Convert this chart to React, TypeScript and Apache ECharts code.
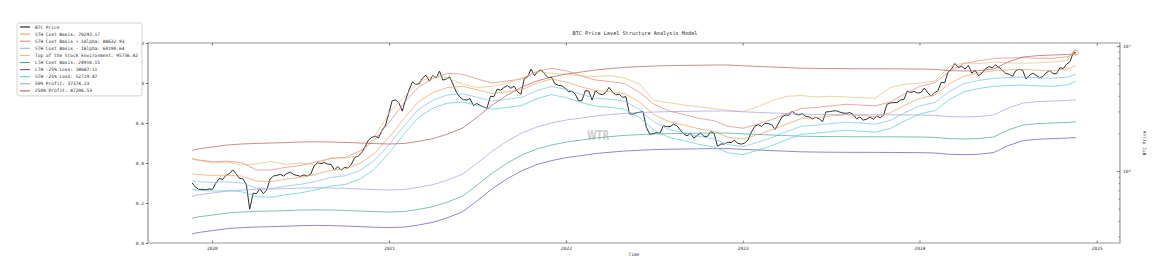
import React, { useEffect, useRef } from "react";
import * as echarts from "echarts";

const FONT = '"DejaVu Sans Mono", "Liberation Mono", monospace';

const TITLE = "BTC Price Level Structure Analysis Model";
const WATERMARK = "WTR";
const X_NAME = "Time";
const Y_RIGHT_NAME = "BTC Price";

const START_DATE = "2019-11-20";
const END_DATE = "2024-11-18";
const X_MIN_DATE = "2019-08-21";
const X_MAX_DATE = "2025-02-17";
const YEAR_TICKS = [2020, 2021, 2022, 2023, 2024, 2025];

const RIGHT_MIN = 2680;
const RIGHT_MAX = 106700;
const RIGHT_MAJOR = [10000, 100000];
const RIGHT_MINOR = [3000, 4000, 5000, 6000, 7000, 8000, 9000, 20000, 30000, 40000, 50000, 60000, 70000, 80000, 90000];

// BTC price, one value per week (Wednesdays) from 2019-11-20 to 2024-11-13
const BTC_WEEKLY = [
  // 2019
  8100, 7500, 7200, 7200, 7150, 7250,
  // 2020
  7200, 8050, 8800, 8650, 9300, 9600, 10300, 9600, 8800, 8750, 7900, 5000, 6700,
  6650, 7300, 6650, 7100, 8700, 9200, 9300, 9500, 9200, 9650, 9900, 9450, 9300,
  9150, 9400, 9200, 9500, 11100, 11750, 11550, 11800, 11450, 11400, 10300, 10950, 10250, 10800,
  10650, 11450, 12950, 13300, 14150, 15700, 17800, 18750, 19200, 18550, 21300, 23200, 28900,
  // 2021
  36800, 37400, 35500, 30400, 37600, 44800, 52100, 49700, 50500, 56000, 58900, 52800, 58800,
  56000, 63500, 53800, 55000, 57200, 49700, 42900, 39300, 37600, 37300, 38300, 33700, 35000,
  33800, 32800, 32100, 40000, 39700, 45600, 44700, 47000, 48800, 46400, 48100, 43600, 41500,
  55300, 57400, 66000, 58500, 63000, 65000, 60400, 56300, 57000, 50600, 48900, 48600, 46500,
  // 2022
  43500, 43900, 41700, 36800, 36900, 44400, 44000, 37300, 44400, 41900, 41100, 42900, 47100,
  43200, 41100, 41500, 39200, 39700, 29000, 28700, 29500, 29800, 30200, 22600, 19900, 20100,
  20500, 20200, 23200, 22900, 22800, 23900, 23300, 21500, 20000, 19300, 20200, 18500, 19400,
  20300, 19100, 19100, 20800, 20200, 15900, 16600, 16600, 17150, 17000, 17800, 16800, 16550,
  // 2023
  16850, 17950, 20700, 23050, 23700, 22950, 24300, 24200, 23600, 21700, 24400, 27300, 28300,
  28200, 30400, 28800, 28400, 29000, 27600, 27400, 26300, 27200, 26300, 25100, 30000, 30100,
  30500, 30600, 29900, 29400, 29200, 29600, 28700, 26400, 27300, 25800, 26200, 27200, 26200,
  27800, 26900, 28400, 34500, 35400, 35600, 35600, 37400, 37800, 44000, 42900, 43700, 42500,
  // 2024
  42800, 46600, 42700, 40100, 42600, 44300, 51800, 51300, 62500, 66100, 73100, 67900, 69400,
  66000, 70600, 61300, 64300, 58300, 61200, 66200, 69100, 67600, 71100, 68200, 65000, 60800,
  60200, 57700, 64100, 65800, 64600, 55100, 58700, 61100, 59000, 56200, 57600, 61800, 64300,
  60700, 60600, 67600, 66700, 72300, 75900, 90500,
];
const BTC_LAST = 89500;

// Level lines, one value on 2019-11-20, then the 1st of each month 2019-12 .. 2024-11, then 2024-11-18
const STH = [
  9600, 9450, 9300, 9350, 9200, 8400, 8300, 8700, 9000, 9500, 10200, 10500, 11600, 14000,
  19000, 27000, 36000, 43000, 47000, 48000, 45000, 42000, 43500, 45000, 51000, 55000,
  52000, 47500, 44500, 43500, 42000, 36000, 28500, 25000, 23500, 22000, 21000, 18800,
  18200, 19800, 21500, 24000, 26500, 27000, 27800, 28500, 28000, 27500, 29500, 34000,
  38500, 41000, 50000, 58000, 61500, 64000, 65000, 65500, 64500, 64000, 66000, 70293.17,
];
const STH_PLUS_ALPHA = [
  12700, 12400, 12000, 12100, 11800, 10300, 10300, 10800, 11200, 11900, 12700, 13000, 14600, 18000,
  25000, 36000, 47000, 56000, 61000, 60000, 55000, 51000, 53000, 55000, 63000, 67000,
  64000, 58000, 54000, 52500, 50500, 43000, 34500, 30500, 28500, 26700, 25500, 23000,
  22200, 24000, 26000, 29000, 32000, 32500, 33500, 34500, 34000, 33500, 36000, 42000,
  48000, 51500, 63000, 73000, 77000, 80000, 81000, 81500, 80500, 80500, 83000, 88632.93,
];
const STH_MINUS_ALPHA = [
  8450, 8300, 8200, 8250, 8100, 7350, 7300, 7650, 7900, 8350, 8950, 9250, 10200, 12300,
  16600, 23500, 31300, 37400, 41000, 41800, 39200, 36600, 37900, 39200, 44400, 47900,
  45300, 41300, 38700, 37800, 36500, 31300, 24800, 21700, 20400, 19100, 18300, 16400,
  15800, 17200, 18700, 20900, 23000, 23500, 24200, 24800, 24400, 23900, 25700, 29600,
  33500, 35700, 43500, 50500, 53500, 55700, 56500, 57000, 56100, 55700, 57000, 60190.64,
];
const TOP_STOCK = [
  12600, 12300, 11700, 11900, 11300, 11500, 12000, 11400, 11700, 11300, 12900, 12800, 13500, 19000,
  30000, 40000, 52000, 58000, 56000, 50000, 47000, 48000, 51000, 56000, 63000, 61000,
  60000, 58000, 57500, 58500, 56000, 50000, 37000, 35500, 34000, 33000, 31800, 31000,
  30200, 33000, 37000, 40000, 40500, 39500, 40000, 39500, 39000, 38500, 47000, 50000,
  51000, 53000, 69000, 74000, 73000, 75000, 74000, 73500, 74000, 75000, 78000, 95756.42,
];
const LTH = [
  4215, 4325, 4487, 4656, 4742, 4795, 4831, 4866, 4920, 4938, 4920, 4884, 4831, 4778,
  4742, 4795, 4975, 5238, 5702, 6368, 7798, 9727, 11695, 13552, 15136, 16293,
  17219, 17865, 18535, 19020, 19450, 19730, 19953, 20100, 20180, 20250, 20324, 20324,
  20030, 19810, 19590, 19380, 19160, 19090, 19020, 19000, 18980, 18960, 18940, 18910,
  18880, 18740, 18330, 18200, 18330, 18880, 21480, 23550, 24170, 24430, 24710, 24916.15,
];
const LTH_LOSS_25 = [
  3161, 3244, 3365, 3492, 3557, 3596, 3623, 3650, 3690, 3704, 3690, 3663, 3623, 3584,
  3557, 3596, 3731, 3929, 4277, 4776, 5849, 7295, 8771, 10164, 11352, 12220,
  12914, 13399, 13901, 14265, 14588, 14798, 14965, 15075, 15135, 15188, 15243, 15243,
  15023, 14858, 14693, 14535, 14370, 14318, 14265, 14250, 14235, 14220, 14205, 14183,
  14160, 14055, 13748, 13650, 13748, 14160, 16110, 17663, 18128, 18323, 18533, 18687.11,
];
const STH_LOSS_25 = [
  7200, 7088, 6975, 7013, 6900, 6300, 6225, 6525, 6750, 7125, 7650, 7875, 8700, 10500,
  14250, 20250, 27000, 32250, 35250, 36000, 33750, 31500, 32625, 33750, 38250, 41250,
  39000, 35625, 33375, 32625, 31500, 27000, 21375, 18750, 17625, 16500, 15750, 14100,
  13650, 14850, 16125, 18000, 19875, 20250, 20850, 21375, 21000, 20625, 22125, 25500,
  28875, 30750, 37500, 43500, 46125, 48000, 48750, 49125, 48375, 48000, 49500, 52719.87,
];
const PROFIT_50 = [
  6323, 6488, 6731, 6984, 7113, 7193, 7247, 7299, 7380, 7407, 7380, 7326, 7247, 7167,
  7113, 7193, 7463, 7857, 8553, 9552, 11697, 14591, 17543, 20328, 22704, 24440,
  25829, 26798, 27803, 28530, 29175, 29595, 29930, 30150, 30270, 30375, 30486, 30486,
  30045, 29715, 29385, 29070, 28740, 28635, 28530, 28500, 28470, 28440, 28410, 28365,
  28320, 28110, 27495, 27300, 27495, 28320, 32220, 35325, 36255, 36645, 37065, 37374.23,
];
const PROFIT_250 = [
  14753, 15138, 15705, 16296, 16597, 16783, 16909, 17031, 17220, 17283, 17220, 17094, 16909, 16723,
  16597, 16783, 17413, 18333, 19957, 22288, 27293, 34045, 40933, 47432, 52976, 57026,
  60267, 62528, 64873, 66570, 68075, 69055, 69836, 70350, 70630, 70875, 71134, 71134,
  70105, 69335, 68565, 67830, 67060, 66815, 66570, 66500, 66430, 66360, 66290, 66185,
  66080, 65590, 64155, 63700, 64155, 66080, 75180, 82425, 84595, 85505, 86485, 87206.53,
];

const PRICE_NAME = "BTC Price";
const LINES = [
  { name: "STH Cost Basis: 70293.17", values: STH, color: "#f2a066" },
  { name: "STH Cost Basis + 1Alpha: 88632.93", values: STH_PLUS_ALPHA, color: "#e08a80" },
  { name: "STH Cost Basis - 1Alpha: 60190.64", values: STH_MINUS_ALPHA, color: "#7fc2ee" },
  { name: "Top of the Stock Environment: 95756.42", values: TOP_STOCK, color: "#e6c080" },
  { name: "LTH Cost Basis: 24916.15", values: LTH, color: "#4aaa92" },
  { name: "LTH -25% Loss: 18687.11", values: LTH_LOSS_25, color: "#5e5ac6" },
  { name: "STH -25% Loss: 52719.87", values: STH_LOSS_25, color: "#58d0d4" },
  { name: "50% Profit: 37374.23", values: PROFIT_50, color: "#a8a2e4" },
  { name: "250% Profit: 87206.53", values: PROFIT_250, color: "#b5605e" },
];

function ts(s: string): number {
  const [y, m, d] = s.split("-").map(Number);
  return new Date(y, m - 1, d).getTime();
}

export default function App() {
  const ref = useRef<HTMLDivElement>(null);

  useEffect(() => {
    const el = ref.current;
    if (!el) return;
    const chart = echarts.init(el, undefined, { renderer: "svg" });

    const [sy, sm, sd] = START_DATE.split("-").map(Number);
    const priceData: [number, number][] = BTC_WEEKLY.map((v, i) => [
      new Date(sy, sm - 1, sd + 7 * i).getTime(),
      v,
    ]);
    priceData.push([ts(END_DATE), BTC_LAST]);

    const monthTs: number[] = [ts(START_DATE)];
    for (let k = 0; k < 60; k++) monthTs.push(new Date(2019, 11 + k, 1).getTime());
    monthTs.push(ts(END_DATE));

    const xMin = ts(X_MIN_DATE);
    const xMax = ts(X_MAX_DATE);

    const textBase = { fontFamily: FONT, color: "#2a2a2a" };

    const series: any[] = [
      {
        name: PRICE_NAME,
        type: "line",
        yAxisIndex: 1,
        data: priceData,
        showSymbol: false,
        symbol: "none",
        silent: true,
        lineStyle: { width: 0.9, color: "#1a1a1a" },
        itemStyle: { color: "#1a1a1a" },
        z: 2,
      },
      ...LINES.map((l) => ({
        name: l.name,
        type: "line",
        yAxisIndex: 1,
        data: l.values.map((v, i) => [monthTs[i], v]),
        showSymbol: false,
        symbol: "none",
        silent: true,
        lineStyle: { width: 0.9, color: l.color, opacity: 0.8 },
        itemStyle: { color: l.color },
        z: 2,
      })),
      {
        name: "last",
        type: "scatter",
        yAxisIndex: 1,
        data: [[ts(END_DATE), BTC_LAST]],
        symbol: "circle",
        symbolSize: 5,
        silent: true,
        itemStyle: { color: "rgba(0,0,0,0)", borderColor: "#ee9a5a", borderWidth: 1 },
        z: 3,
      },
    ];

    const option: any = {
      animation: false,
      backgroundColor: "#ffffff",
      title: {
        text: TITLE,
        left: 635,
        top: 30.5,
        textAlign: "center",
        padding: 0,
        textStyle: { ...textBase, fontSize: 5.2, fontWeight: "normal" },
      },
      legend: {
        data: [PRICE_NAME, ...LINES.map((l) => l.name)],
        orient: "vertical",
        left: 17,
        top: 23,
        icon: "rect",
        itemWidth: 10,
        itemHeight: 1.1,
        itemGap: 2.1,
        padding: [1.5, 4, 2.5, 3],
        backgroundColor: "rgba(255,255,255,0.85)",
        borderColor: "#d4d4d4",
        borderWidth: 1,
        borderRadius: 2,
        selectedMode: false,
        textStyle: { ...textBase, fontSize: 4.5, lineHeight: 5 },
      },
      grid: {
        left: 148,
        right: 33,
        top: 43,
        bottom: 31,
        show: true,
        borderColor: "#959595",
        borderWidth: 1.2,
        backgroundColor: "transparent",
      },
      xAxis: {
        type: "time",
        min: xMin,
        max: xMax,
        position: "bottom",
        name: X_NAME,
        nameLocation: "middle",
        nameGap: 9,
        nameTextStyle: { ...textBase, fontSize: 4.5 },
        axisLine: { show: false },
        axisTick: { show: false },
        axisLabel: { show: false },
        splitLine: { show: false },
      },
      yAxis: [
        {
          type: "value",
          position: "left",
          min: 0,
          max: 1,
          interval: 0.2,
          axisLine: { show: false },
          axisTick: { show: true, length: 2, lineStyle: { color: "#555", width: 0.8 } },
          axisLabel: {
            margin: 4,
            fontSize: 4.5,
            fontFamily: FONT,
            color: "#2a2a2a",
            formatter: (v: number) => v.toFixed(1),
          },
          splitLine: { show: false },
        },
        {
          type: "log",
          logBase: 10,
          position: "right",
          min: RIGHT_MIN,
          max: RIGHT_MAX,
          name: Y_RIGHT_NAME,
          nameLocation: "middle",
          nameGap: 13,
          nameRotate: 90,
          nameTextStyle: { ...textBase, fontSize: 4.5 },
          axisLine: { show: false },
          axisTick: { show: false },
          axisLabel: {
            showMinLabel: false,
            showMaxLabel: false,
            margin: 3,
            fontSize: 4.5,
            fontFamily: FONT,
            color: "#2a2a2a",
            formatter: (v: number) => {
              const e = Math.log10(v);
              if (Math.abs(e - 4) < 1e-6) return "10\u2074";
              if (Math.abs(e - 5) < 1e-6) return "10\u2075";
              return "";
            },
          },
          splitLine: { show: false },
        },
      ],
      series,
    };

    chart.setOption(option);

    const rightX = chart.convertToPixel({ xAxisIndex: 0 }, xMax) as number;
    const topY = chart.convertToPixel({ yAxisIndex: 0 }, 1) as number;
    const bottomY = chart.convertToPixel({ yAxisIndex: 0 }, 0) as number;
    const graphics: any[] = [
      {
        type: "text",
        id: "wm",
        x: 598,
        y: 135,
        scaleX: 0.62,
        z: 1,
        silent: true,
        style: {
          text: WATERMARK,
          fill: "#d0d0d0",
          fontSize: 14,
          fontWeight: "bold",
          fontFamily: '"DejaVu Sans", sans-serif',
          textAlign: "center",
          textVerticalAlign: "middle",
          verticalAlign: "middle",
        },
      },
    ];
    YEAR_TICKS.forEach((yr, i) => {
      const x = chart.convertToPixel({ xAxisIndex: 0 }, new Date(yr, 0, 1).getTime()) as number;
      graphics.push({
        type: "line",
        id: "xb" + i,
        silent: true,
        shape: { x1: x, y1: bottomY, x2: x, y2: bottomY - 2.5 },
        style: { stroke: "#555", lineWidth: 0.8 },
      });
      graphics.push({
        type: "line",
        id: "xt" + i,
        silent: true,
        shape: { x1: x, y1: topY, x2: x, y2: topY + 2.5 },
        style: { stroke: "#555", lineWidth: 0.8 },
      });
      graphics.push({
        type: "text",
        id: "xl" + i,
        silent: true,
        x,
        y: bottomY + 2.5,
        style: {
          text: String(yr),
          fill: "#2a2a2a",
          fontSize: 4.5,
          fontFamily: FONT,
          textAlign: "center",
          textVerticalAlign: "top",
          verticalAlign: "top",
        },
      });
    });
    RIGHT_MAJOR.forEach((v, i) => {
      const y = chart.convertToPixel({ yAxisIndex: 1 }, v) as number;
      graphics.push({
        type: "line",
        id: "maj" + i,
        silent: true,
        shape: { x1: rightX - 3, y1: y, x2: rightX, y2: y },
        style: { stroke: "#555", lineWidth: 0.8 },
      });
    });
    RIGHT_MINOR.forEach((v, i) => {
      const y = chart.convertToPixel({ yAxisIndex: 1 }, v) as number;
      graphics.push({
        type: "line",
        id: "min" + i,
        silent: true,
        shape: { x1: rightX - 1.6, y1: y, x2: rightX, y2: y },
        style: { stroke: "#555", lineWidth: 0.6 },
      });
    });
    chart.setOption({ graphic: graphics });

    return () => {
      chart.dispose();
    };
  }, []);

  return (
    <div
      ref={ref}
      style={{ position: "fixed", left: 0, top: 0, width: 1155, height: 274, background: "#fff" }}
    />
  );
}
